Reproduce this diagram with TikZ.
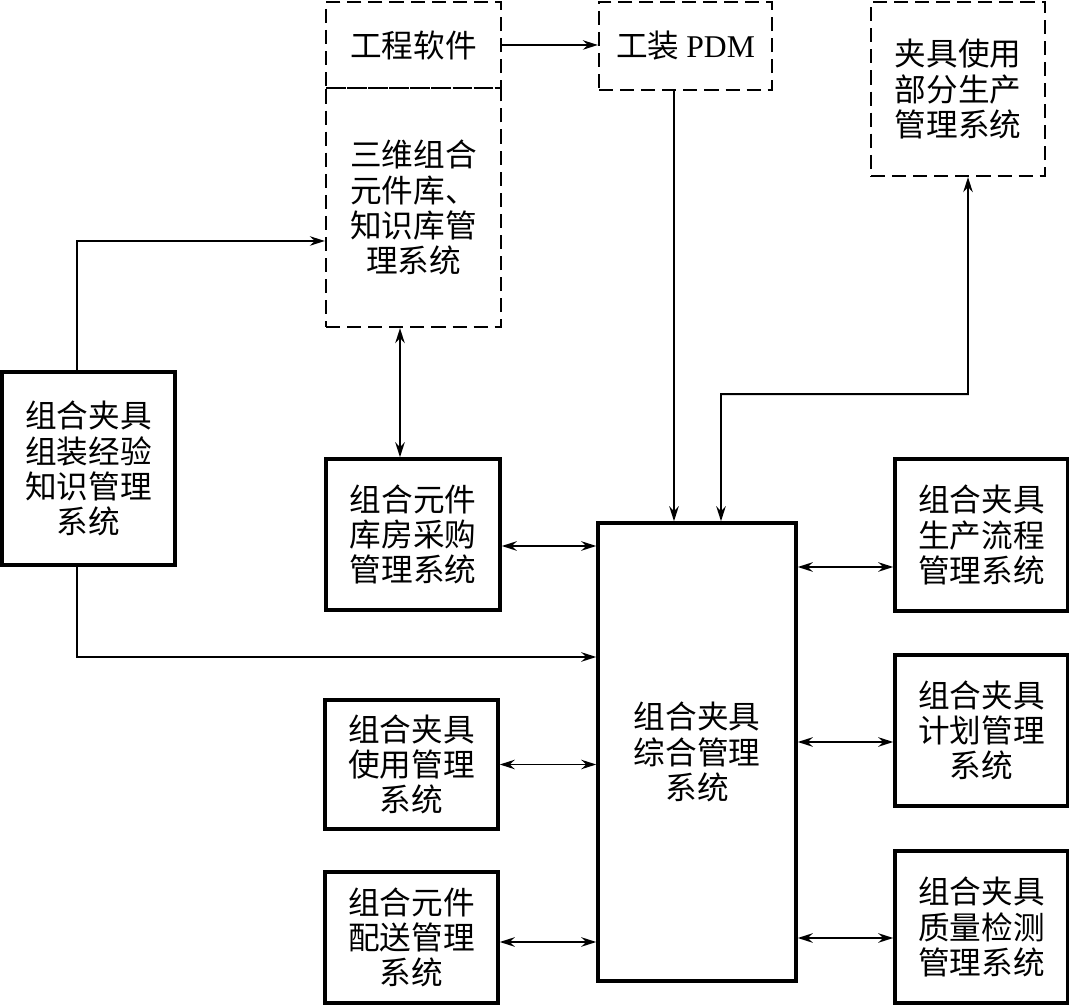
\documentclass[tikz,border=0pt]{standalone}
\usepackage{fontspec}
\setmainfont{Liberation Serif}
\newfontfamily\cjk{Noto Sans CJK SC}
\usetikzlibrary{arrows.meta,positioning,calc}

\begin{document}
\begin{tikzpicture}[x=0.2mm, y=-0.2mm,
  every node/.style={font=\cjk\fontsize{18}{20}\selectfont, align=center, inner sep=0pt},
  sysbox/.style={draw, line width=2pt},
  extbox/.style={draw, line width=1.3pt, dash pattern=on 8pt off 4pt},
  arr/.style={-{Stealth[length=3mm, width=1.9mm, inset=1mm]}, line width=1.1pt},
  dbl/.style={{Stealth[length=3mm, width=1.9mm, inset=1mm]}-{Stealth[length=3mm, width=1.9mm, inset=1mm]}, line width=1.1pt}]
\useasboundingbox (0,0) rectangle (1069,1005);
% dashed outside systems
\node[extbox, minimum width=35mm, minimum height=17.2mm] (tools) at (413.5,45) {工程软件};
\node[extbox, minimum width=35mm, minimum height=47.8mm] (lib) at (413.5,207.5) {三维组合\\元件库、\\知识库管\\理系统};
\node[extbox, minimum width=34.6mm, minimum height=17.6mm] (pdm) at (685.5,46) {工装 {\rmfamily PDM}};
\node[extbox, minimum width=34.8mm, minimum height=34.8mm] (usep) at (958,89) {夹具使用\\部分生产\\管理系统};
% solid boxes
\node[sysbox, minimum width=34.6mm, minimum height=38.6mm] (know) at (88.5,468.5) {组合夹具\\组装经验\\知识管理\\系统};
\node[sysbox, minimum width=34.8mm, minimum height=30.2mm] (store) at (413,534.5) {组合元件\\库房采购\\管理系统};
\node[sysbox, minimum width=39.6mm, minimum height=91.6mm] (main) at (697,752) {组合夹具\\综合管理\\系统};
\node[sysbox, minimum width=34.6mm, minimum height=30.4mm] (flow) at (981.5,535) {组合夹具\\生产流程\\管理系统};
\node[sysbox, minimum width=34.6mm, minimum height=30.2mm] (plan) at (981.5,730.5) {组合夹具\\计划管理\\系统};
\node[sysbox, minimum width=34.6mm, minimum height=30.4mm] (quality) at (981.5,927) {组合夹具\\质量检测\\管理系统};
\node[sysbox, minimum width=34.6mm, minimum height=25.8mm] (use) at (411.5,764.5) {组合夹具\\使用管理\\系统};
\node[sysbox, minimum width=34.6mm, minimum height=26.2mm] (deliver) at (411.5,937.5) {组合元件\\配送管理\\系统};
% connectors
\draw[arr] (tools.east) -- (tools.east -| pdm.west);
\draw[arr] ([xshift=-2.3mm]pdm.south) -- ([xshift=-2.3mm]pdm.south |- main.north);
\draw[dbl] ([xshift=4.8mm]main.north) |- ($(usep.south)+(10,217)$) -- ([xshift=2mm]usep.south);
\draw[arr] ([xshift=-2.3mm]know.north) |- ([yshift=-6.7mm]lib.west);
\draw[arr] ([xshift=-2.3mm]know.south) |- ([yshift=19mm]main.west);
\draw[dbl] ([xshift=-2.7mm]lib.south) -- ([xshift=-2.7mm]lib.south |- store.north);
\draw[dbl] ([yshift=-2.3mm]store.east) -- ([yshift=-2.3mm]store.east -| main.west);
\draw[dbl] (use.east) -- (use.east -| main.west);
\draw[dbl] ([yshift=-0.9mm]deliver.east) -- ([yshift=-0.9mm]deliver.east -| main.west);
\draw[dbl] ([yshift=-6.4mm]flow.west -| main.east) -- ([yshift=-6.4mm]flow.west);
\draw[dbl] ([yshift=-2.3mm]plan.west -| main.east) -- ([yshift=-2.3mm]plan.west);
\draw[dbl] ([yshift=-2.2mm]quality.west -| main.east) -- ([yshift=-2.2mm]quality.west);
\end{tikzpicture}
\end{document}
